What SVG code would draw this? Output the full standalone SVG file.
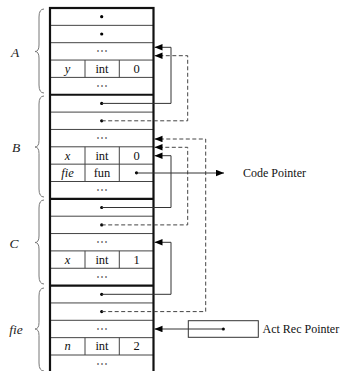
<svg xmlns="http://www.w3.org/2000/svg" width="340" height="371" viewBox="0 0 340 371">
<style>
.row{stroke:#444;stroke-width:1;fill:none}
.thick{stroke:#111;stroke-width:2.2;fill:none}
.t{font-family:"Liberation Serif","Times New Roman",serif;font-size:12.5px;fill:#111;text-anchor:middle;dominant-baseline:central}
.i{font-style:italic}
.dots{font-family:"DejaVu Serif",serif;font-size:12px;fill:#666;text-anchor:middle;dominant-baseline:central}
.lab{font-family:"Liberation Serif","Times New Roman",serif;font-size:13.5px;font-style:italic;fill:#222;text-anchor:middle;dominant-baseline:central}
.brace{stroke:#777;stroke-width:1;fill:none}
.solid{stroke:#333;stroke-width:1;fill:none;marker-end:url(#ah)}
.dash{stroke:#444;stroke-width:1;fill:none;stroke-dasharray:4,2.5;marker-end:url(#ah)}
.dot{fill:#000}
.lt{font-family:"Liberation Serif","Times New Roman",serif;font-size:12px;fill:#111;dominant-baseline:central}
</style>
<defs>
<marker id="ah" markerUnits="userSpaceOnUse" markerWidth="9" markerHeight="7" refX="8" refY="3.25" orient="auto">
<path d="M0,0 L8,3.25 L0,6.5 z" fill="#000" stroke="none"/>
</marker>
</defs>
<rect width="340" height="371" fill="#fff"/>

<g id="frame-A">
<line class="row" x1="50" y1="25.35" x2="153.5" y2="25.35"/>
<line class="row" x1="50" y1="42.7" x2="153.5" y2="42.7"/>
<line class="row" x1="50" y1="60.05" x2="153.5" y2="60.05"/>
<line class="row" x1="50" y1="77.4" x2="153.5" y2="77.4"/>
<line class="row" x1="85" y1="60.05" x2="85" y2="77.4"/>
<line class="row" x1="119.3" y1="60.05" x2="119.3" y2="77.4"/>
<circle class="dot" cx="101.7" cy="16.7" r="1.6"/>
<circle class="dot" cx="101.7" cy="34" r="1.6"/>
<text class="dots" x="101.7" y="51.4">⋯</text>
<text class="t i" x="67.5" y="68.7">y</text>
<text class="t" x="102" y="68.7">int</text>
<text class="t" x="136.5" y="68.7">0</text>
<text class="dots" x="101.7" y="86.1">⋯</text>
<path class="brace" d="M44 9 Q39 9 39 17 L39 45 Q39 51.5 35 51.5 Q39 51.5 39 58 L39 85 Q39 93 44 93"/>
<text class="lab" x="15" y="52">A</text>
</g>

<g id="frame-B">
<line class="thick" x1="50" y1="94.75" x2="153.5" y2="94.75"/>
<line class="row" x1="50" y1="112.1" x2="153.5" y2="112.1"/>
<line class="row" x1="50" y1="129.45" x2="153.5" y2="129.45"/>
<line class="row" x1="50" y1="146.8" x2="153.5" y2="146.8"/>
<line class="row" x1="50" y1="164.15" x2="153.5" y2="164.15"/>
<line class="row" x1="50" y1="181.5" x2="153.5" y2="181.5"/>
<line class="row" x1="85" y1="146.8" x2="85" y2="181.5"/>
<line class="row" x1="119.3" y1="146.8" x2="119.3" y2="181.5"/>
<circle class="dot" cx="101.7" cy="103.4" r="1.6"/>
<circle class="dot" cx="101.7" cy="120.8" r="1.6"/>
<text class="dots" x="101.7" y="138.1">⋯</text>
<text class="t i" x="67.5" y="155.5">x</text>
<text class="t" x="102" y="155.5">int</text>
<text class="t" x="136.5" y="155.5">0</text>
<text class="t i" x="67.5" y="172.8">fie</text>
<text class="t" x="102" y="172.8">fun</text>
<circle class="dot" cx="136.5" cy="172.8" r="1.6"/>
<text class="dots" x="101.7" y="190.2">⋯</text>
<path class="brace" d="M44 96 Q39 96 39 104 L39 140.5 Q39 147 35 147 Q39 147 39 153.5 L39 189 Q39 197 44 197"/>
<text class="lab" x="16" y="147">B</text>
</g>

<g id="frame-C">
<line class="thick" x1="50" y1="198.85" x2="153.5" y2="198.85"/>
<line class="row" x1="50" y1="216.2" x2="153.5" y2="216.2"/>
<line class="row" x1="50" y1="233.55" x2="153.5" y2="233.55"/>
<line class="row" x1="50" y1="250.9" x2="153.5" y2="250.9"/>
<line class="row" x1="50" y1="268.25" x2="153.5" y2="268.25"/>
<line class="row" x1="85" y1="250.9" x2="85" y2="268.25"/>
<line class="row" x1="119.3" y1="250.9" x2="119.3" y2="268.25"/>
<circle class="dot" cx="101.7" cy="207.5" r="1.6"/>
<circle class="dot" cx="101.7" cy="224.9" r="1.6"/>
<text class="dots" x="101.7" y="242.2">⋯</text>
<text class="t i" x="67.5" y="259.6">x</text>
<text class="t" x="102" y="259.6">int</text>
<text class="t" x="136.5" y="259.6">1</text>
<text class="dots" x="101.7" y="276.9">⋯</text>
<path class="brace" d="M44 200 Q39 200 39 208 L39 236 Q39 242.5 35 242.5 Q39 242.5 39 249 L39 276 Q39 284 44 284"/>
<text class="lab" x="14" y="243">C</text>
</g>

<g id="frame-fie">
<line class="thick" x1="50" y1="285.6" x2="153.5" y2="285.6"/>
<line class="row" x1="50" y1="302.95" x2="153.5" y2="302.95"/>
<line class="row" x1="50" y1="320.3" x2="153.5" y2="320.3"/>
<line class="row" x1="50" y1="337.65" x2="153.5" y2="337.65"/>
<line class="row" x1="50" y1="355" x2="153.5" y2="355"/>
<line class="row" x1="85" y1="337.65" x2="85" y2="355"/>
<line class="row" x1="119.3" y1="337.65" x2="119.3" y2="355"/>
<circle class="dot" cx="101.7" cy="294.3" r="1.6"/>
<circle class="dot" cx="101.7" cy="311.6" r="1.6"/>
<text class="dots" x="101.7" y="329">⋯</text>
<text class="t i" x="67.5" y="346.3">n</text>
<text class="t" x="102" y="346.3">int</text>
<text class="t" x="136.5" y="346.3">2</text>
<text class="dots" x="101.7" y="363.7">⋯</text>
<path class="brace" d="M44 288 Q39 288 39 296 L39 322.5 Q39 329 35 329 Q39 329 39 335.5 L39 363 Q39 371 44 371"/>
<text class="lab" x="16" y="329">fie</text>
</g>

<rect id="stack" x="50" y="8" width="103.5" height="366" class="thick"/>

<g id="act-rec-pointer">
<rect x="188.3" y="320.7" width="70" height="16.6" fill="none" stroke="#333" stroke-width="1"/>
<circle class="dot" cx="223.3" cy="329" r="1.6"/>
<text class="lt" x="262.5" y="329">Act Rec Pointer</text>
</g>

<g id="code-pointer">
<text class="lt" x="243" y="173.3">Code Pointer</text>
</g>

<g id="connectors">
<path class="solid" d="M101.7 103.4 H171 V47.3 H154.5"/>
<path class="dash" d="M101.7 120.8 H187.7 V55.7 H154.5"/>
<path class="dash" d="M101.7 311.6 H205.7 V139 H154.5"/>
<path class="dash" d="M101.7 224.9 H187.7 V147.3 H154.5"/>
<path class="solid" d="M101.7 207.5 H171 V155.7 H154.5"/>
<path class="solid" d="M101.7 294.3 H171 V242.3 H154.5"/>
<path class="solid" d="M136.5 173 H224"/>
<path class="solid" d="M223.3 329 H154.5"/>
</g>
</svg>
